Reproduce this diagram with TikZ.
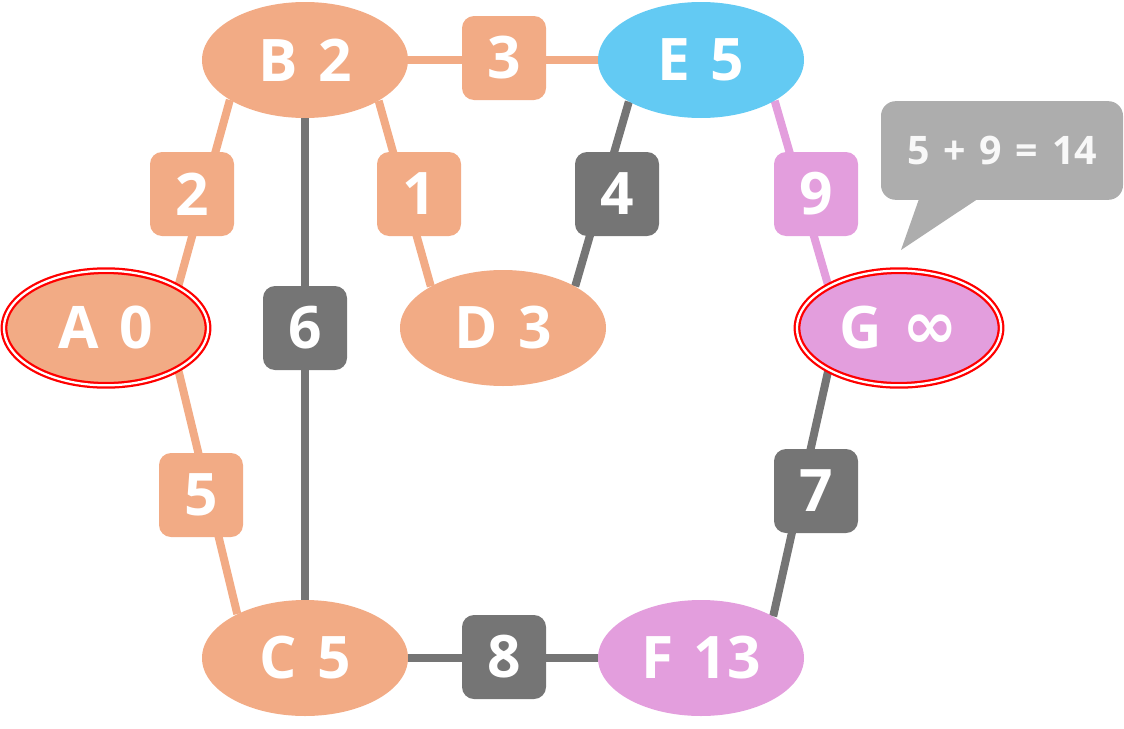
\documentclass[tikz,border=0pt]{standalone}
\usepackage{fontspec}
\setmainfont{Open Sans}
\newfontfamily\labfont{Open Sans}[WordSpace=1.35]
\newfontfamily\symf{DejaVu Sans}
\usetikzlibrary{shapes.geometric,backgrounds}
\definecolor{salmon}{HTML}{F2AB85}
\definecolor{skyb}{HTML}{63CAF3}
\definecolor{pinkv}{HTML}{E39EDD}
\definecolor{dgray}{HTML}{757575}
\definecolor{lgray}{HTML}{ADADAD}
\definecolor{ltext}{HTML}{F8F8F8}
\begin{document}
\begin{tikzpicture}[x=0.75pt,y=-0.75pt,
  vtx/.style={ellipse, minimum width=154.5pt, minimum height=87pt, inner sep=0pt,
    text=white, font=\labfont\fontsize{44}{50}\selectfont\bfseries},
  startv/.style={vtx, minimum width=153pt, minimum height=86pt, draw=red, double=white,
    line width=1.7pt, double distance=1.7pt},
  wlab/.style={rectangle, rounded corners=9pt, minimum width=63pt, minimum height=63pt,
    inner sep=0pt, text=white, font=\fontsize{44}{50}\selectfont\bfseries},
  edgeln/.style={line width=6pt},
  notebox/.style={rectangle, rounded corners=11pt, fill=lgray, minimum width=181.5pt,
    minimum height=74pt, inner sep=0pt, text=ltext, font=\labfont\fontsize{29.5}{34}\selectfont\bfseries}
]
\useasboundingbox (0,0) rectangle (1124,728);

% vertices
\node[vtx, fill=salmon] (B) at (305,60) {B 2};
\node[vtx, fill=skyb] (E) at (701,60) {E 5};
\node[startv, fill=salmon] (A) at (106,328) {A 0};
\node[vtx, fill=salmon] (D) at (503,328) {D 3};
\node[startv, fill=pinkv] (G) at (899,328) {G {\symf\fontsize{50}{56}\selectfont\bfseries ∞}};
\node[vtx, fill=salmon] (C) at (305,658) {C 5};
\node[vtx, fill=pinkv] (F) at (701,658) {F 13};

% weight labels
\node[wlab, fill=salmon] (l3) at (504,58) {3};
\node[wlab, fill=salmon] (l2) at (192,194) {2};
\node[wlab, fill=salmon] (l1) at (419,194) {1};
\node[wlab, fill=dgray] (l4) at (617,194) {4};
\node[wlab, fill=pinkv] (l9) at (816,194) {9};
\node[wlab, fill=dgray] (l6) at (305,328) {6};
\node[wlab, fill=salmon] (l5) at (201,495) {5};
\node[wlab, fill=dgray] (l7) at (816,491) {7};
\node[wlab, fill=dgray] (l8) at (504,657) {8};

% edges
\begin{scope}[on background layer]
\draw[edgeln, salmon] (A.30.3) -- (B.208.7);
\draw[edgeln, salmon] (B.east) -- (E.west);
\draw[edgeln, salmon] (B.331.3) -- (D.150);
\draw[edgeln, salmon] (A.330) -- (C.147.3);
\draw[edgeln, dgray] (B.south) -- (C.north);
\draw[edgeln, dgray] (D.30.4) -- (E.210.5);
\draw[edgeln, dgray] (C.east) -- (F.west);
\draw[edgeln, dgray] (F.30.6) -- (G.211.4);
\draw[edgeln, pinkv] (E.331.6) -- (G.149.2);
\end{scope}

% callout
\node[notebox] (note) at (1002,150.5) {5 + 9 = 14};
\coordinate (tip) at (901,250);
\fill[lgray] ([xshift=-61.5pt,yshift=3pt]note.south) -- (tip) -- ([xshift=-15pt,yshift=3pt]note.south) -- cycle;
\end{tikzpicture}
\end{document}
